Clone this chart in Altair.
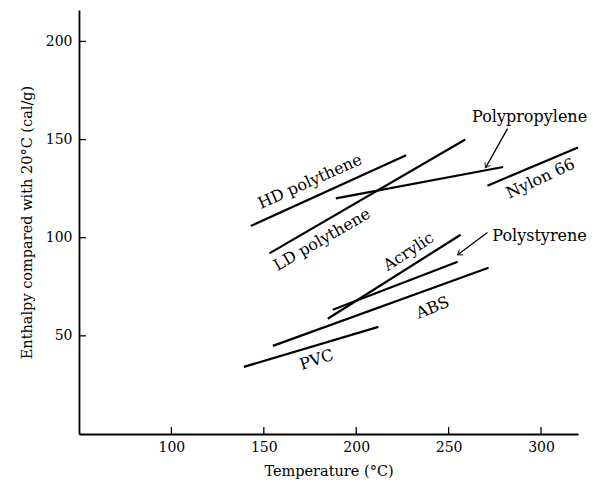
import altair as alt
import pandas as pd

# Series (straight line segments): start and end points
series = ["HD polythene", "LD polythene", "Polypropylene", "Nylon 66",
          "Acrylic", "Polystyrene", "ABS", "PVC"]
x_start = [143, 153, 189, 271, 184.6, 187.3, 154.9, 139.2]
y_start = [106, 92, 120, 126.5, 58.7, 63.3, 44.9, 34.2]
x_end = [227, 259, 279.5, 320, 256.5, 254.9, 271.6, 212]
y_end = [142, 150, 136, 146, 101.5, 87.8, 84.7, 54.6]

# Labels
label_text = ["HD polythene", "LD polythene", "Polypropylene", "Nylon 66",
              "Acrylic", "Polystyrene", "ABS", "PVC"]
label_x = [175, 181.5, 293.8, 299.7, 228.4, 299.2, 241.4, 178.6]
label_y = [128.6, 99, 161.7, 130.1, 92.9, 101, 64.3, 37.8]
label_angle = [336, 330, 0, 335, 327, 0, 338, 342]

# Arrows (tail -> tip)
arrow_x1 = [281.9, 271]
arrow_y1 = [155.6, 102.6]
arrow_x2 = [270, 254.9]
arrow_y2 = [135.7, 91.3]
arrow_angle = [209, 234]

x_ticks = [100, 150, 200, 250, 300]
y_ticks = [50, 100, 150, 200]

FONT = "DejaVu Serif"
xs = alt.Scale(domain=[50, 320], nice=False, zero=False)
ys = alt.Scale(domain=[0, 216], nice=False, zero=False)

lines_df = pd.DataFrame({"series": series, "x1": x_start, "y1": y_start,
                         "x2": x_end, "y2": y_end})
labels_df = pd.DataFrame({"text": label_text, "x": label_x, "y": label_y,
                          "angle": label_angle})
arrows_df = pd.DataFrame({"x1": arrow_x1, "y1": arrow_y1, "x2": arrow_x2,
                          "y2": arrow_y2, "angle": arrow_angle})
xt_df = pd.DataFrame({"v": x_ticks})
yt_df = pd.DataFrame({"v": y_ticks})

base_axes = alt.Chart(lines_df).mark_rule(strokeWidth=2.2, color="black").encode(
    x=alt.X("x1:Q", scale=xs, title="Temperature (°C)",
            axis=alt.Axis(values=x_ticks, ticks=False, grid=False,
                          labelPadding=6, titlePadding=10)),
    y=alt.Y("y1:Q", scale=ys, title="Enthalpy compared with 20°C (cal/g)",
            axis=alt.Axis(values=y_ticks, ticks=False, grid=False,
                          labelPadding=7, titlePadding=11)),
    x2="x2:Q",
    y2="y2:Q",
)

labels = alt.Chart(labels_df).mark_text(font=FONT, fontSize=16, color="black").encode(
    x=alt.X("x:Q", scale=xs),
    y=alt.Y("y:Q", scale=ys),
    text="text:N",
    angle=alt.Angle("angle:Q", scale=None),
)

arrow_lines = alt.Chart(arrows_df).mark_rule(strokeWidth=1.3, color="black").encode(
    x=alt.X("x1:Q", scale=xs), y=alt.Y("y1:Q", scale=ys),
    x2="x2:Q", y2="y2:Q",
)

arrow_heads = alt.Chart(arrows_df).mark_point(
    shape="M-1,1.4 L0,0 L1,1.4", filled=False, stroke="black",
    strokeWidth=1.3, size=40).encode(
    x=alt.X("x2:Q", scale=xs), y=alt.Y("y2:Q", scale=ys),
    angle=alt.Angle("angle:Q", scale=None),
)

xticks = alt.Chart(xt_df).mark_rule(color="black", strokeWidth=1.3).encode(
    x=alt.X("v:Q", scale=xs), y=alt.value(424), y2=alt.value(417))
yticks = alt.Chart(yt_df).mark_rule(color="black", strokeWidth=1.3).encode(
    y=alt.Y("v:Q", scale=ys), x=alt.value(0), x2=alt.value(7))

chart = alt.layer(base_axes, labels, arrow_lines, arrow_heads, xticks, yticks).properties(
    width=499, height=424, autosize="none",
    padding={"left": 79, "top": 10, "right": 27, "bottom": 56},
    background="white",
).configure_view(stroke=None).configure_axis(
    domainColor="black", domainWidth=1.8, labelFont=FONT, titleFont=FONT,
    labelFontSize=14, titleFontSize=14.5, titleFontWeight="normal",
    labelColor="black", titleColor="black",
)

chart.save("out.html", embed_options={"renderer": "svg", "actions": False})
